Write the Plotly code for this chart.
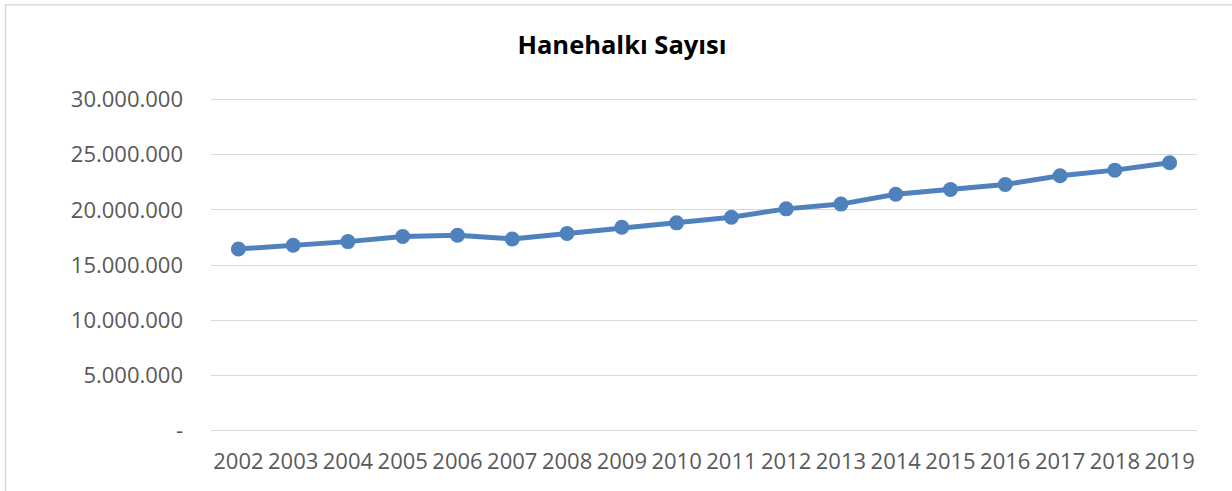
import plotly.graph_objects as go

years = ["2002", "2003", "2004", "2005", "2006", "2007", "2008", "2009", "2010",
         "2011", "2012", "2013", "2014", "2015", "2016", "2017", "2018", "2019"]
households = [16450000, 16790000, 17120000, 17580000, 17700000, 17360000, 17850000,
              18420000, 18820000, 19330000, 20090000, 20520000, 21420000, 21850000,
              22300000, 23090000, 23600000, 24270000]

y_tick_vals = [0, 5000000, 10000000, 15000000, 20000000, 25000000, 30000000]
y_tick_text = ["-", "5.000.000", "10.000.000", "15.000.000", "20.000.000",
               "25.000.000", "30.000.000"]

title_text = "Hanehalkı Sayısı"

W, H = 1232, 491
PAD_PX = 1.54
PAD_VAL = 140000
L, R, T, B = 211, 35, 100 - PAD_PX, 61 - PAD_PX
pw, ph = W - L - R, H - T - B

fig = go.Figure()
fig.add_trace(go.Scatter(
    x=years, y=households, mode="lines+markers",
    line=dict(color="#4f81bd", width=5),
    marker=dict(color="#4f81bd", size=15),
    showlegend=False, cliponaxis=False,
))

def px_x(p):
    return (p - L) / pw

def px_y(p):
    return 1 - (p - T) / ph

fig.update_layout(
    width=W, height=H,
    margin=dict(l=L, r=R, t=T, b=B, autoexpand=False),
    paper_bgcolor="white", plot_bgcolor="white",
    font=dict(family="Open Sans", color="#595959", size=22),
    title=dict(text="<b>" + title_text + "</b>", x=622 / W,
               xref="container", xanchor="center",
               y=1 - 45 / H, yanchor="middle",
               font=dict(family="Open Sans", size=25.5, color="#000000")),
    xaxis=dict(type="category", range=[-0.5, len(years) - 0.5],
               showgrid=False, showline=False, zeroline=False,
               ticks="", tickfont=dict(size=22, color="#595959"),
               ticklabelstandoff=14),
    yaxis=dict(range=[-PAD_VAL, 30000000 + PAD_VAL],
               tickvals=y_tick_vals, ticktext=y_tick_text,
               showgrid=True, gridcolor="#d9d9d9", gridwidth=1.3,
               zeroline=True, zerolinecolor="#d9d9d9", zerolinewidth=1.3,
               showline=False, ticks="",
               tickfont=dict(size=22, color="#595959"),
               ticklabelstandoff=27),
    shapes=[dict(type="rect", xref="paper", yref="paper",
                 x0=px_x(5.5), x1=px_x(1260), y0=px_y(5.5), y1=px_y(520),
                 line=dict(color="#d9d9d9", width=1.5), fillcolor="rgba(0,0,0,0)",
                 layer="below")],
)

fig.write_html("out.html",
               config={"displayModeBar": False},
               post_script="document.body.style.margin='0';document.body.style.overflow='hidden';")
